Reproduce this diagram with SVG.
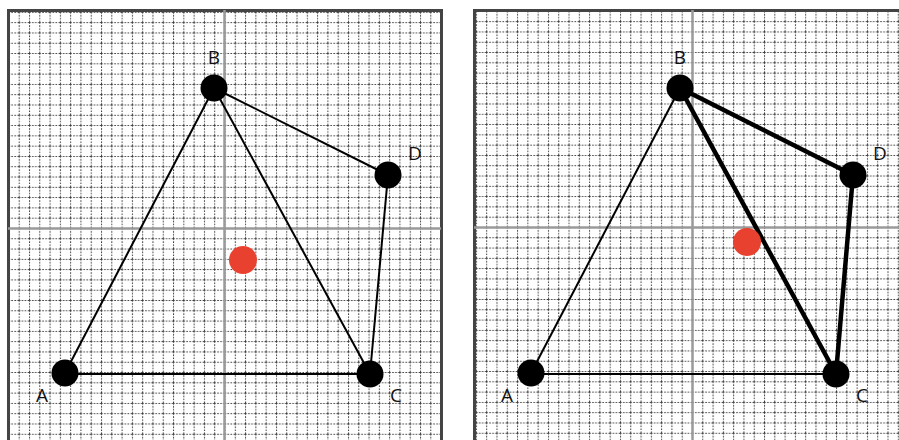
<svg xmlns="http://www.w3.org/2000/svg" width="899" height="440" viewBox="0 0 899 440">
<defs>
<style>
.grid{stroke:#3a3a3a;stroke-width:1;stroke-dasharray:1.6 1.4;fill:none}
.axis{stroke:#9a9a9a;stroke-width:2.5;fill:none}
.node{fill:#000}
.red{fill:#e8412f}
.thin{stroke:#000;stroke-width:2;fill:none}
.thick{stroke:#000;stroke-width:4.5;fill:none}
.lbl{font-family:"Open Sans","Liberation Sans",sans-serif;font-size:19px;fill:#111;text-anchor:middle}
</style>
<pattern id="gL" patternUnits="userSpaceOnUse" x="224.5" y="228" width="10.29" height="10.29">
<rect width="10.29" height="10.29" fill="#fff"/>
<line class="grid" x1="0.5" y1="0" x2="0.5" y2="10.29"/>
<line class="grid" x1="0" y1="0.5" x2="10.29" y2="0.5"/>
</pattern>
<pattern id="gR" patternUnits="userSpaceOnUse" x="692" y="227" width="10.29" height="10.29">
<rect width="10.29" height="10.29" fill="#fff"/>
<line class="grid" x1="0.5" y1="0" x2="0.5" y2="10.29"/>
<line class="grid" x1="0" y1="0.5" x2="10.29" y2="0.5"/>
</pattern>
</defs>
<rect width="899" height="440" fill="#fff"/>
<g id="panel-left">
<rect x="8.5" y="10.5" width="433" height="440" fill="url(#gL)" stroke="#444" stroke-width="3"/>
<line class="axis" x1="224.5" y1="10" x2="224.5" y2="440"/>
<line class="axis" x1="8" y1="228.5" x2="441" y2="228.5"/>
</g>
<g id="panel-right">
<rect x="474.5" y="10.5" width="440" height="440" fill="url(#gR)" stroke="#444" stroke-width="3"/>
<line class="axis" x1="692.5" y1="10" x2="692.5" y2="440"/>
<line class="axis" x1="474" y1="227.5" x2="899" y2="227.5"/>
</g>
<g id="connectors">
<line class="thin" x1="65" y1="373" x2="214" y2="88"/>
<line class="thin" x1="65" y1="374" x2="370" y2="374" stroke-width="2.5"/>
<line class="thin" x1="214" y1="88" x2="370" y2="374"/>
<line class="thin" x1="214" y1="88" x2="388" y2="175" stroke-width="1.5"/>
<line class="thin" x1="388" y1="175" x2="370" y2="374"/>
<line class="thin" x1="531" y1="373" x2="680" y2="88"/>
<line class="thin" x1="531" y1="374" x2="836" y2="374" stroke-width="2.5"/>
<line class="thick" x1="680" y1="88" x2="836" y2="374"/>
<line class="thick" x1="680" y1="88" x2="853" y2="175"/>
<line class="thick" x1="853" y1="175" x2="836" y2="374"/>
</g>
<g id="L-A"><circle class="node" cx="65" cy="373" r="13.5"/><text class="lbl" x="42" y="402">A</text></g>
<g id="L-B"><circle class="node" cx="214" cy="88" r="13.5"/><text class="lbl" x="214" y="64">B</text></g>
<g id="L-C"><circle class="node" cx="370" cy="374" r="13.5"/><text class="lbl" x="396" y="402">C</text></g>
<g id="L-D"><circle class="node" cx="388" cy="175" r="13.5"/><text class="lbl" x="415" y="160">D</text></g>
<g id="L-red"><circle class="red" cx="243" cy="260" r="14"/></g>
<g id="R-A"><circle class="node" cx="531" cy="373" r="13.5"/><text class="lbl" x="507" y="402">A</text></g>
<g id="R-B"><circle class="node" cx="680" cy="88" r="13.5"/><text class="lbl" x="680" y="64">B</text></g>
<g id="R-C"><circle class="node" cx="836" cy="374" r="13.5"/><text class="lbl" x="862" y="402">C</text></g>
<g id="R-D"><circle class="node" cx="853" cy="175" r="13.5"/><text class="lbl" x="880" y="160">D</text></g>
<g id="R-red"><circle class="red" cx="747" cy="242" r="14"/></g>
</svg>
